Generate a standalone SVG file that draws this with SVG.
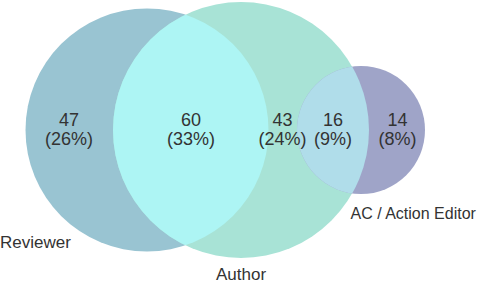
<svg xmlns="http://www.w3.org/2000/svg" width="486" height="282" viewBox="0 0 486 282">
<style>
.num{font-family:"Liberation Sans",Arial,sans-serif;font-size:18px;fill:#333;text-anchor:middle}
.lbl{font-family:"Liberation Sans",Arial,sans-serif;font-size:17px;fill:#333}
</style>
<defs>
<clipPath id="cpRev"><circle cx="147" cy="130" r="121.5"/></clipPath>
<clipPath id="cpAC"><circle cx="361" cy="130" r="64"/></clipPath>
</defs>
<rect width="486" height="282" fill="#fff"/>
<g id="reviewer">
<circle cx="147" cy="130" r="121.5" fill="#99C4D2"/>
</g>
<g id="author">
<circle cx="241" cy="130" r="128" fill="#A8E3D6"/>
</g>
<g id="ac">
<circle cx="361" cy="130" r="64" fill="#9FA4C8"/>
</g>
<g id="reviewer-author">
<circle cx="241" cy="130" r="128" fill="#ADF5F4" clip-path="url(#cpRev)"/>
</g>
<g id="author-ac">
<circle cx="241" cy="130" r="128" fill="#B0DDEA" clip-path="url(#cpAC)"/>
</g>
<g id="connectors"></g>
<g id="labels">
<text class="num" x="69" y="125.5">47</text>
<text class="num" x="69" y="145">(26%)</text>
<text class="num" x="191" y="125.5">60</text>
<text class="num" x="191" y="145">(33%)</text>
<text class="num" x="282.5" y="125.5">43</text>
<text class="num" x="282.5" y="145">(24%)</text>
<text class="num" x="333" y="125.5">16</text>
<text class="num" x="333" y="145">(9%)</text>
<text class="num" x="397.5" y="125.5">14</text>
<text class="num" x="397.5" y="145">(8%)</text>
<text class="lbl" x="0" y="247.5">Reviewer</text>
<text class="lbl" x="216" y="279.5">Author</text>
<text class="lbl" x="350.5" y="218.5" style="font-size:16px">AC / Action Editor</text>
</g>
</svg>
